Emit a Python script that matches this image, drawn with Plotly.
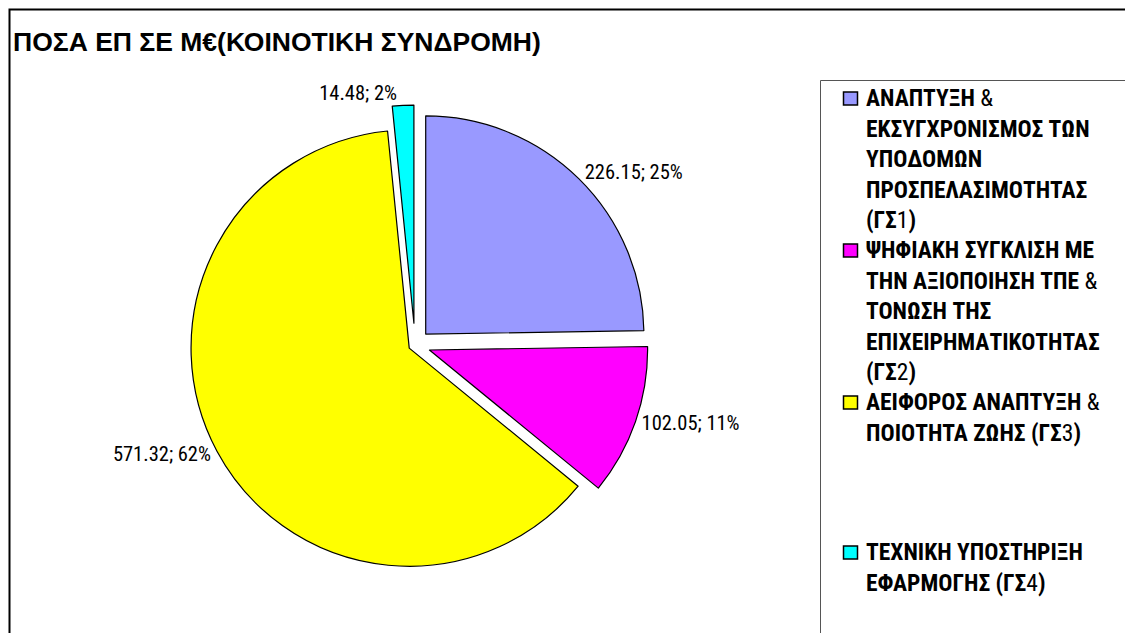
import re
import plotly.graph_objects as go

# ---- data ----
categories = [
    "ΑΝΑΠΤΥΞΗ & ΕΚΣΥΓΧΡΟΝΙΣΜΟΣ ΤΩΝ ΥΠΟΔΟΜΩΝ ΠΡΟΣΠΕΛΑΣΙΜΟΤΗΤΑΣ (ΓΣ1)",
    "ΨΗΦΙΑΚΗ ΣΥΓΚΛΙΣΗ ΜΕ ΤΗΝ ΑΞΙΟΠΟΙΗΣΗ ΤΠΕ & ΤΟΝΩΣΗ ΤΗΣ ΕΠΙΧΕΙΡΗΜΑΤΙΚΟΤΗΤΑΣ (ΓΣ2)",
    "ΑΕΙΦΟΡΟΣ ΑΝΑΠΤΥΞΗ & ΠΟΙΟΤΗΤΑ ΖΩΗΣ (ΓΣ3)",
    "ΤΕΧΝΙΚΗ ΥΠΟΣΤΗΡΙΞΗ ΕΦΑΡΜΟΓΗΣ (ΓΣ4)",
]
legend_lines = [
    ["ΑΝΑΠΤΥΞΗ &", "ΕΚΣΥΓΧΡΟΝΙΣΜΟΣ ΤΩΝ", "ΥΠΟΔΟΜΩΝ", "ΠΡΟΣΠΕΛΑΣΙΜΟΤΗΤΑΣ", "(ΓΣ1)"],
    ["ΨΗΦΙΑΚΗ ΣΥΓΚΛΙΣΗ ΜΕ", "ΤΗΝ ΑΞΙΟΠΟΙΗΣΗ ΤΠΕ &", "ΤΟΝΩΣΗ ΤΗΣ", "ΕΠΙΧΕΙΡΗΜΑΤΙΚΟΤΗΤΑΣ", "(ΓΣ2)"],
    ["ΑΕΙΦΟΡΟΣ ΑΝΑΠΤΥΞΗ &", "ΠΟΙΟΤΗΤΑ ΖΩΗΣ (ΓΣ3)"],
    ["ΤΕΧΝΙΚΗ ΥΠΟΣΤΗΡΙΞΗ", "ΕΦΑΡΜΟΓΗΣ (ΓΣ4)"],
]
values = [226.15, 102.05, 571.32, 14.48]
percent_labels = ["25%", "11%", "62%", "2%"]
colors = ["#9999FF", "#FF00FF", "#FFFF00", "#00FFFF"]
title_text = "ΠΟΣΑ ΕΠ ΣΕ Μ€(ΚΟΙΝΟΤΙΚΗ ΣΥΝΔΡΟΜΗ)"

W, H = 1133, 633
OFF = 8  # page body margin offset
NARROW = "Liberation Sans Narrow, Arial Narrow, Roboto Condensed, Liberation Sans, sans-serif"


def px(x):
    return (x - OFF) / W


def py(y):
    return 1 - (y - OFF) / H


fig = go.Figure()
fig.add_trace(go.Pie(
    labels=categories,
    values=values,
    text=percent_labels,
    texttemplate="%{value:.2f}; %{text}",
    textposition="outside",
    textfont=dict(family=NARROW, size=20.5, color="black"),
    marker=dict(colors=colors, line=dict(color="black", width=1.2)),
    sort=False,
    direction="clockwise",
    rotation=0,
    pull=[0.07, 0.07, 0.03, 0.1],
    showlegend=False,
    domain=dict(x=[px(40), px(790)], y=[py(585), py(105)]),
    hoverinfo="label+value+percent",
))

shapes = [
    # outer chart frame
    dict(type="rect", xref="paper", yref="paper",
         x0=px(9.5), y0=py(9.5), x1=px(W + 30), y1=py(H + 30),
         line=dict(color="black", width=2), fillcolor="rgba(0,0,0,0)"),
    # legend box
    dict(type="rect", xref="paper", yref="paper",
         x0=px(820.5), y0=py(80.5), x1=px(W + 30), y1=py(H + 30),
         line=dict(color="#555555", width=1), fillcolor="rgba(0,0,0,0)"),
]


def fmt_line(s):
    # '&' and digits appear in regular weight in the original legend
    s = s.replace("&", "&amp;")
    s = re.sub(r"(&amp;|\d)", r"</b><span style='font-weight:normal'>\1</span><b>", s)
    return "<b>" + s + "</b>"


legend_first_line_y = [98, 250, 402, 552]
annotations = [
    dict(text="<b>" + title_text + "</b>", x=px(11), y=py(42), xref="paper", yref="paper",
         xanchor="left", yanchor="middle", showarrow=False,
         font=dict(family="Liberation Sans, Arial, sans-serif", size=26.5, color="black")),
]
for lines, yc, col in zip(legend_lines, legend_first_line_y, colors):
    shapes.append(dict(type="rect", xref="paper", yref="paper",
                       x0=px(843.5), x1=px(857.5), y0=py(yc - 6), y1=py(yc + 7),
                       line=dict(color="black", width=1.5), fillcolor=col))
    annotations.append(dict(
        text="<br>".join(fmt_line(l) for l in lines),
        x=px(864), y=py(yc - 16), xref="paper", yref="paper",
        xanchor="left", yanchor="top", align="left", showarrow=False,
        font=dict(family=NARROW, size=23.5, color="black"),
    ))

fig.update_layout(
    width=W, height=H,
    margin=dict(l=0, r=0, t=0, b=0, pad=0, autoexpand=False),
    paper_bgcolor="white",
    plot_bgcolor="white",
    shapes=shapes,
    annotations=annotations,
)

fig.write_html("out.html")
